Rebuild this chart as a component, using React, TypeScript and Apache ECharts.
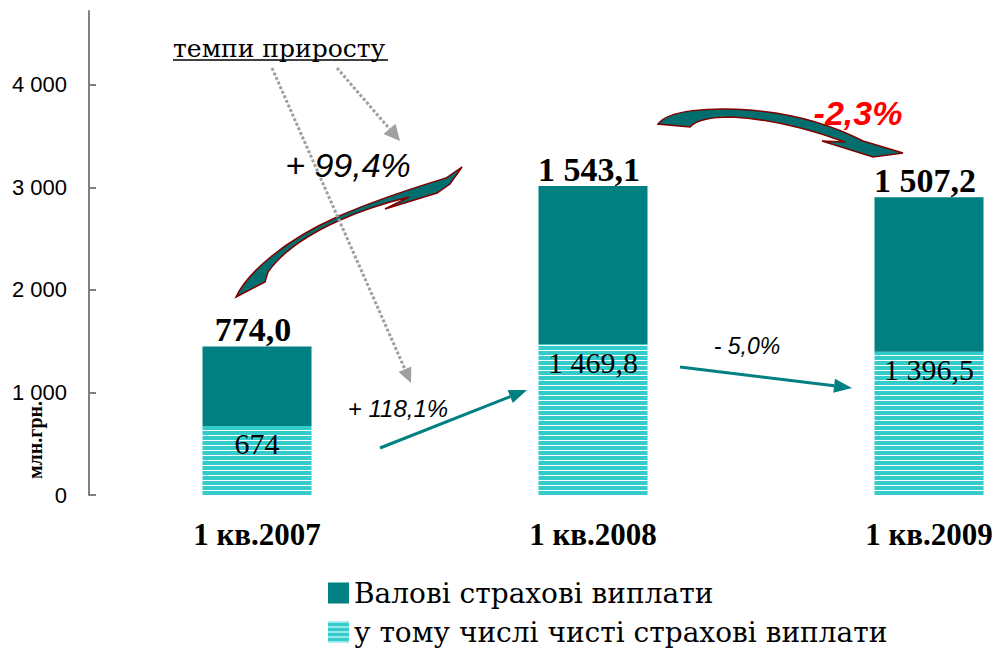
import React, { useEffect, useRef } from "react";
import * as echarts from "echarts";

const categories = ["1 кв.2007", "1 кв.2008", "1 кв.2009"];
const netPayments = [674, 1469.8, 1396.5];
const grossPayments = [774.0, 1543.1, 1507.2];
const yTicks = [0, 1000, 2000, 3000, 4000];
const grossName = "Валові страхові виплати";
const netName = "у тому числі чисті страхові виплати";
const annotationTitle = "темпи приросту";
const grossGrowth = ["+ 99,4%", "-2,3%"];
const netGrowth = ["+ 118,1%", "- 5,0%"];
const unitLabel = "млн.грн.";

const SERIF = "'Liberation Serif', 'Times New Roman', 'DejaVu Serif', serif";
const CYR_SERIF = "'DejaVu Serif', 'Liberation Serif', serif";
const SANS = "'Liberation Sans', Arial, sans-serif";

function fmt(v: number, dec: number): string {
  const s = v.toFixed(dec);
  const parts = s.split(".");
  const ip = parts[0].replace(/\B(?=(\d{3})+(?!\d))/g, " ");
  return parts[1] ? ip + "," + parts[1] : ip;
}

const ARROW1 =
  "M236,297 C248,272 285,240 337,217 C380,198 420,186 446,178 L462,167 L450,184 L437,193 L385,209 L409,197 C385,203 362,210 338,221 C305,236 282,252 268,272 L265,282 Z";
const ARROW2 =
  "M658,124 C668,110 710,107 750,110 C800,114 838,128 863,141 L903,153 L873,157 L822,141 L845,142 C812,130 772,119 732,117 C712,117 696,120 690,127 Z";

let registered = false;
function registerShapes() {
  if (registered) return;
  registered = true;
  echarts.graphic.registerShape("curveArrow1", echarts.graphic.extendPath(ARROW1, {}) as any);
  echarts.graphic.registerShape("curveArrow2", echarts.graphic.extendPath(ARROW2, {}) as any);
}

function arrowHead(x1: number, y1: number, tx: number, ty: number, len: number, half: number) {
  const dx = tx - x1;
  const dy = ty - y1;
  const d = Math.sqrt(dx * dx + dy * dy);
  const ux = dx / d;
  const uy = dy / d;
  const bx = tx - ux * len;
  const by = ty - uy * len;
  const px = -uy * half;
  const py = ux * half;
  return {
    base: [bx, by],
    points: [
      [tx, ty],
      [bx + px, by + py],
      [bx - px, by - py],
    ],
  };
}

function straightArrow(x1: number, y1: number, tx: number, ty: number, color: string, width: number, len: number, half: number, dash?: number[]) {
  const h = arrowHead(x1, y1, tx, ty, len, half);
  return [
    {
      type: "line",
      shape: { x1, y1, x2: h.base[0], y2: h.base[1] },
      style: { stroke: color, lineWidth: width, lineDash: dash || null },
      silent: true,
    },
    {
      type: "polygon",
      shape: { points: h.points },
      style: { fill: color },
      silent: true,
    },
  ];
}

export default function App() {
  const ref = useRef<HTMLDivElement>(null);
  useEffect(() => {
    if (!ref.current) return;
    registerShapes();
    const chart = echarts.init(ref.current, null, { renderer: "svg" });
    const option: any = {
      animation: false,
      grid: { left: 89, top: 11, width: 1008, height: 484, outerBoundsMode: "none", containLabel: false },
      legend: {
        orient: "vertical",
        left: 328,
        top: 579,
        height: 120,
        padding: 0,
        itemWidth: 21,
        itemHeight: 21,
        itemGap: 11,
        icon: "rect",
        data: [grossName, netName],
        textStyle: { fontFamily: CYR_SERIF, fontSize: 28, lineHeight: 28, color: "#000" },
      },
      xAxis: {
        type: "category",
        data: categories,
        axisLine: { show: false },
        axisTick: { show: false },
        axisLabel: {
          interval: 0,
          margin: 24,
          fontFamily: SERIF,
          fontWeight: "bold",
          fontSize: 31,
          color: "#000",
        },
      },
      yAxis: {
        type: "value",
        min: 0,
        max: 4720,
        interval: 1000,
        splitLine: { show: false },
        axisLine: { show: true, lineStyle: { color: "#808080", width: 2 } },
        axisTick: {
          show: true,
          inside: true,
          length: 7,
          customValues: yTicks,
          lineStyle: { color: "#808080", width: 2 },
        },
        axisLabel: {
          customValues: yTicks,
          margin: 22,
          fontFamily: SANS,
          fontSize: 22,
          color: "#000",
          formatter: (v: number) => fmt(v, 0),
        },
      },
      series: [
        {
          name: netName,
          type: "bar",
          stack: "total",
          data: netPayments,
          barWidth: 109,
          itemStyle: {
            color: "#33CCCC",
            decal: {
              symbol: "rect",
              symbolSize: 1,
              color: "#ffffff",
              dashArrayX: [1, 0],
              dashArrayY: [1, 4],
              rotation: 0,
            },
          },
          label: {
            show: true,
            position: "insideTop",
            distance: 3,
            fontFamily: SERIF,
            fontSize: 30,
            color: "#000",
            formatter: (p: any) => fmt(p.value, Number.isInteger(p.value) ? 0 : 1),
          },
        },
        {
          name: grossName,
          type: "bar",
          stack: "total",
          data: grossPayments,
          barWidth: 109,
          itemStyle: { color: "#008080" },
          label: {
            show: true,
            position: "top",
            distance: 0,
            offset: [-4, 0],
            fontFamily: SERIF,
            fontWeight: "bold",
            fontSize: 34,
            color: "#000",
            formatter: (p: any) => fmt(p.value, 1),
          },
        },
      ],
      graphic: [
        {
          type: "curveArrow1",
          x: 0,
          y: 0,
          style: { fill: "#006e6e", stroke: "#800000", lineWidth: 1.5 },
          silent: true,
        },
        {
          type: "curveArrow2",
          x: 0,
          y: 0,
          style: { fill: "#006e6e", stroke: "#800000", lineWidth: 1.5 },
          silent: true,
        },
        ...straightArrow(272, 68, 411, 383, "#a0a0a0", 3, 15, 7, [3, 2]),
        ...straightArrow(337, 68, 400, 141, "#a0a0a0", 3, 16, 8, [3, 2]),
        ...straightArrow(380, 448, 527, 390, "#008080", 3, 18, 7),
        ...straightArrow(680, 367, 852, 388, "#008080", 3, 18, 7),
        {
          type: "text",
          x: 173,
          y: 48,
          style: {
            text: annotationTitle,
            fontFamily: CYR_SERIF,
            fontSize: 25,
            fill: "#000",
            align: "left",
            verticalAlign: "middle",
          },
          silent: true,
        },
        {
          type: "line",
          shape: { x1: 173, y1: 60, x2: 388, y2: 60 },
          style: { stroke: "#000", lineWidth: 1.5 },
          silent: true,
        },
        {
          type: "text",
          x: 348,
          y: 165,
          style: {
            text: grossGrowth[0],
            fontFamily: SANS,
            fontStyle: "italic",
            fontSize: 34,
            fill: "#000",
            align: "center",
            verticalAlign: "middle",
          },
          silent: true,
        },
        {
          type: "text",
          x: 858,
          y: 113,
          style: {
            text: grossGrowth[1],
            fontFamily: SANS,
            fontStyle: "italic",
            fontWeight: "bold",
            fontSize: 34,
            fill: "#ff0000",
            align: "center",
            verticalAlign: "middle",
          },
          silent: true,
        },
        {
          type: "text",
          x: 398,
          y: 408,
          style: {
            text: netGrowth[0],
            fontFamily: SANS,
            fontStyle: "italic",
            fontSize: 24,
            fill: "#000",
            align: "center",
            verticalAlign: "middle",
          },
          silent: true,
        },
        {
          type: "text",
          x: 747,
          y: 346,
          style: {
            text: netGrowth[1],
            fontFamily: SANS,
            fontStyle: "italic",
            fontSize: 23,
            fill: "#000",
            align: "center",
            verticalAlign: "middle",
          },
          silent: true,
        },
        {
          type: "text",
          x: 35,
          y: 440,
          rotation: Math.PI / 2,
          style: {
            text: unitLabel,
            fontFamily: SERIF,
            fontWeight: "bold",
            fontSize: 20,
            fill: "#000",
            align: "center",
            verticalAlign: "middle",
          },
          silent: true,
        },
      ],
    };
    chart.setOption(option);
    return () => chart.dispose();
  }, []);
  return (
    <div
      ref={ref}
      style={{ position: "fixed", left: 0, top: 0, width: 992, height: 651, background: "#fff" }}
    />
  );
}
